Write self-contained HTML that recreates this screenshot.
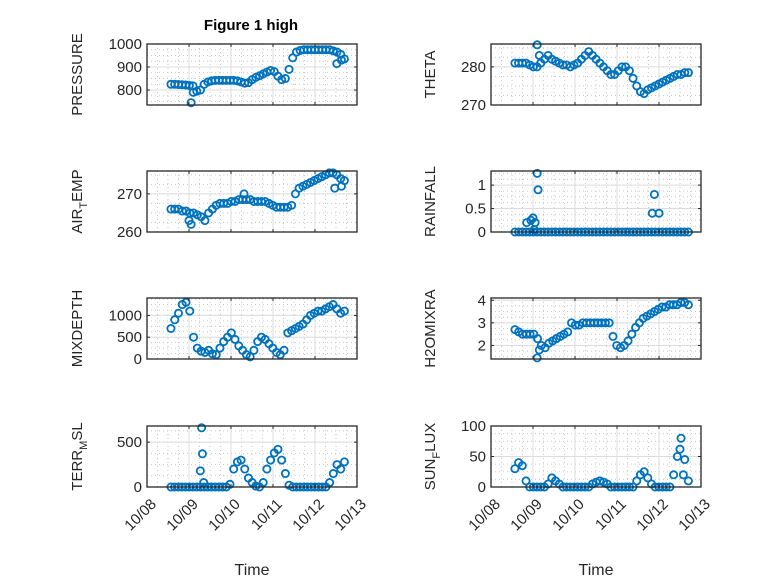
<!DOCTYPE html>
<html><head><meta charset="utf-8"><style>
body{margin:0;background:#fff;}
svg{display:block;font-family:"Liberation Sans","DejaVu Sans",sans-serif;}
</style></head><body>
<svg id="fig" width="778" height="583" viewBox="0 0 778 583">
<text x="251" y="30" text-anchor="middle" font-size="15" font-weight="bold" fill="#000">Figure 1 high</text>
</svg>
<script>
// x-axis categories (days since 10/08 00:00)
const xTickLabels = ["10/08","10/09","10/10","10/11","10/12","10/13"];
const seriesStart = 0.57, seriesEnd = 4.7;

const pressureVals = [825,825,824,823,822,820,818,795,800,825,835,840,842,842,842,842,842,842,840,835,830,832,845,855,862,870,878,885,880,860,845,850,890,940,965,972,975,975,975,975,975,975,975,975,970,965,955,935];
const pressureOut = [[1.05,745],[1.1,790],[4.52,915],[4.63,930]];

const thetaVals = [281,281,281,281,280.5,280,280,281,282,283,282,281.5,281,280.5,280.5,280,280.5,281,282,283,284,283,282,281,280,279,278,278,279,280,280,279,277,275,273.5,273,274,274.5,275,275.5,276,276.5,277,277.5,278,278,278.5,278.5];
const thetaOut = [[1.1,285.8],[1.15,283]];

const airVals = [266,266,266,265.5,265.5,265,265,264.5,264,263,265,266,267,267.5,267.5,267.5,268,268,268.5,268.5,268.5,268.5,268,268,268,268,267.5,267,266.5,266.5,266.5,266.5,267,270,271.5,272,272.5,273,273.5,274,274.5,275,275.5,275.5,275,274,273.5];
const airOut = [[1.05,262],[1.0,263],[2.31,270],[4.47,271.5],[4.63,272]];

const rainVals = [0,0,0,0,0,0,0,0,0,0,0,0,0,0,0,0,0,0,0,0,0,0,0,0,0,0,0,0,0,0,0,0,0,0,0,0,0,0,0,0,0,0,0,0,0,0,0,0];
const rainOut = [[0.85,0.2],[0.95,0.25],[1.0,0.3],[1.05,0.2],[1.03,0.05],[1.1,1.25],[1.12,0.9],[3.84,0.4],[3.89,0.8],[4.0,0.4]];

const mixVals = [700,900,1050,1250,1300,1100,500,250,180,150,200,120,100,250,400,500,600,450,300,200,100,50,200,400,500,450,350,250,150,100,200,600,650,700,750,800,900,1000,1050,1100,1100,1150,1200,1250,1150,1050,1100];
const mixOut = [];

const h2oVals = [2.7,2.6,2.5,2.5,2.5,2.5,2.3,2.0,1.9,2.1,2.2,2.3,2.4,2.5,2.6,3.0,2.9,2.9,3.0,3.0,3.0,3.0,3.0,3.0,3.0,3.0,2.4,2.0,1.9,2.0,2.2,2.5,2.8,3.0,3.2,3.3,3.4,3.5,3.6,3.7,3.7,3.8,3.8,3.8,3.9,3.9,3.8];
const h2oOut = [[1.1,1.45],[1.15,1.8]];

const terrVals = [0,0,0,0,0,0,0,0,0,0,0,0,0,0,0,0,30,200,280,300,200,100,50,10,0,50,200,300,380,420,300,150,20,0,0,0,0,0,0,0,0,0,0,50,150,250,200,280];
const terrOut = [[1.3,660],[1.32,370],[1.27,180],[1.35,50]];

const sunVals = [30,40,35,10,0,0,0,0,0,5,15,10,5,0,0,0,0,0,0,0,0,5,8,10,8,5,0,0,0,0,0,0,0,10,20,25,15,5,0,0,0,0,0,20,50,80,45,10];
const sunOut = [[4.5,62],[4.58,20]];

const panels = [
 {name:"pressure",col:0,row:0,ylim:[735,1000],yt:[800,900,1000],ytl:["800","900","1000"],lab:["PRESSURE"],v:pressureVals,o:pressureOut},
 {name:"theta",col:1,row:0,ylim:[270,286],yt:[270,280],ytl:["270","280"],lab:["THETA"],v:thetaVals,o:thetaOut},
 {name:"air-temp",col:0,row:1,ylim:[260,276],yt:[260,270],ytl:["260","270"],lab:["AIR","T","EMP"],v:airVals,o:airOut},
 {name:"rainfall",col:1,row:1,ylim:[0,1.3],yt:[0,0.5,1],ytl:["0","0.5","1"],lab:["RAINFALL"],v:rainVals,o:rainOut},
 {name:"mixdepth",col:0,row:2,ylim:[0,1400],yt:[0,500,1000],ytl:["0","500","1000"],lab:["MIXDEPTH"],v:mixVals,o:mixOut},
 {name:"h2omixra",col:1,row:2,ylim:[1.4,4.1],yt:[2,3,4],ytl:["2","3","4"],lab:["H2OMIXRA"],v:h2oVals,o:h2oOut},
 {name:"terr-msl",col:0,row:3,ylim:[0,680],yt:[0,500],ytl:["0","500"],lab:["TERR","M","SL"],v:terrVals,o:terrOut},
 {name:"sun-flux",col:1,row:3,ylim:[0,100],yt:[0,50,100],ytl:["0","50","100"],lab:["SUN","F","LUX"],v:sunVals,o:sunOut}
];

const NS="http://www.w3.org/2000/svg";
const svg=document.getElementById('fig');
const colX=[147,491], W=210, rowY=[44,171,298,426], H=61;
function mk(tag,attrs,parent){const e=document.createElementNS(NS,tag);for(const k in attrs)e.setAttribute(k,attrs[k]);(parent||svg).appendChild(e);return e;}

panels.forEach(p=>{
  const x0=colX[p.col], y0=rowY[p.row];
  const g=mk('g',{});
  
  
  const sx=d=>x0+d/5*W;
  const sy=v=>y0+H-(v-p.ylim[0])/(p.ylim[1]-p.ylim[0])*H;
  mk('rect',{x:x0,y:y0,width:W,height:H,fill:'#fff'},g);
  for(let d=0;d<=5;d+=0.25){ if(Math.abs(d-Math.round(d))<1e-6) continue;
    mk('line',{x1:sx(d),x2:sx(d),y1:y0,y2:y0+H,stroke:'#c8c8c8','stroke-width':1,'stroke-dasharray':'1 3'},g);}
  const yStep=p.yt.length>1?(p.yt[1]-p.yt[0]):1;
  for(let v=p.yt[0]-yStep;v<=p.ylim[1];v+=yStep/4){
    if(v<p.ylim[0]||v>p.ylim[1]) continue;
    mk('line',{x1:x0,x2:x0+W,y1:sy(v),y2:sy(v),stroke:'#c8c8c8','stroke-width':1,'stroke-dasharray':'1 3'},g);}
  for(let d=1;d<5;d++) mk('line',{x1:sx(d),x2:sx(d),y1:y0,y2:y0+H,stroke:'#dcdcdc','stroke-width':1},g);
  p.yt.forEach(v=>mk('line',{x1:x0,x2:x0+W,y1:sy(v),y2:sy(v),stroke:'#dcdcdc','stroke-width':1},g));
  const step=(seriesEnd-seriesStart)/(p.v.length-1);
  const pts=p.v.map((v,i)=>[seriesStart+i*step,v]).concat(p.o);
  pts.forEach(pt=>{
    const c=mk('circle',{cx:sx(pt[0]),cy:sy(pt[1]),r:3.6,fill:'none',stroke:'#0072BD','stroke-width':1.8},g);
    
    
  });
  mk('rect',{x:x0,y:y0,width:W,height:H,fill:'none',stroke:'#262626','stroke-width':1.3},g);
  for(let d=0;d<=5;d++){
    mk('line',{x1:sx(d),x2:sx(d),y1:y0+H,y2:y0+H-3,stroke:'#262626'},g);
    mk('line',{x1:sx(d),x2:sx(d),y1:y0,y2:y0+3,stroke:'#262626'},g);
  }
  p.yt.forEach((v,i)=>{
    mk('line',{x1:x0,x2:x0+3,y1:sy(v),y2:sy(v),stroke:'#262626'},g);
    mk('line',{x1:x0+W,x2:x0+W-3,y1:sy(v),y2:sy(v),stroke:'#262626'},g);
    const t=mk('text',{x:x0-5,y:sy(v)+5,'text-anchor':'end','font-size':15,fill:'#262626'},g);
    t.textContent=p.ytl[i];
    
    
  });
  const lx=p.col===0?x0-65:x0-56, ly=y0+H/2;
  const yl=mk('text',{x:lx,y:ly,transform:`rotate(-90 ${lx} ${ly})`,'text-anchor':'middle','font-size':15,fill:'#262626'},g);
  
  
  if(p.lab.length===1){yl.textContent=p.lab[0];}
  else{
    const a=mk('tspan',{},yl);a.textContent=p.lab[0];
    const b=mk('tspan',{dy:5,'font-size':11},yl);b.textContent=p.lab[1];
    const c=mk('tspan',{dy:-5},yl);c.textContent=p.lab[2];
  }
  if(p.row===3){
    xTickLabels.forEach((s,d)=>{
      const tx=sx(d)+10, ty=y0+H+18;
      const t=mk('text',{x:tx,y:ty,transform:`rotate(-45 ${tx} ${ty})`,'text-anchor':'end','font-size':15,fill:'#262626'},g);
      t.textContent=s;
      
      
    });
    const xt=mk('text',{x:x0+W/2,y:575,'text-anchor':'middle','font-size':16,fill:'#262626'},g);
    xt.textContent='Time';
    
    
  }
});
</script>
</body></html>
